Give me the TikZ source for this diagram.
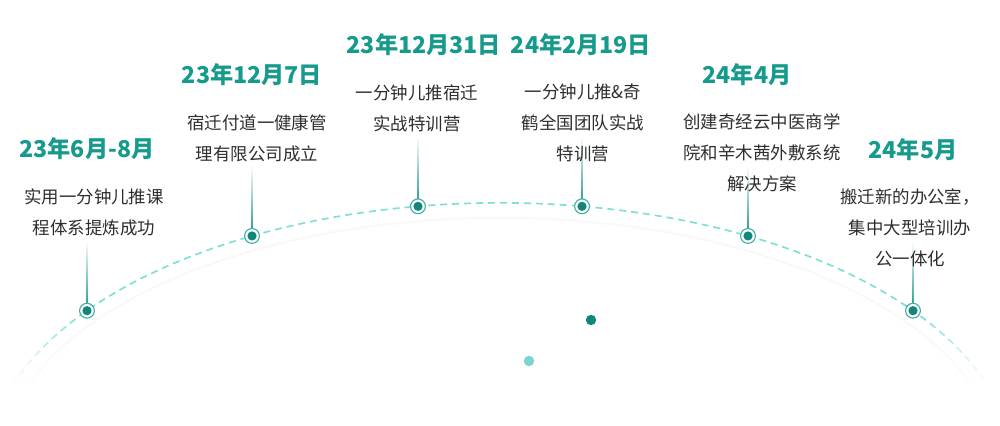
\documentclass[tikz,border=0pt]{standalone}
\usepackage{fontspec}
\setmainfont{Noto Sans CJK SC}
\usepackage{xcolor}
\usepackage{tikz}
\usetikzlibrary{calc}
\usetikzlibrary{positioning}
\usetikzlibrary{fadings}

\definecolor{datec}{RGB}{22,154,140}
\definecolor{dotc}{RGB}{18,134,120}
\definecolor{ringc}{RGB}{64,176,162}
\definecolor{arcc}{RGB}{128,224,214}
\definecolor{stemc}{RGB}{28,150,136}
\definecolor{txtc}{RGB}{45,45,45}
\definecolor{lightc}{RGB}{122,214,204}

\begin{document}
\begin{tikzpicture}[x=0.025cm,y=0.025cm,node distance=1.58cm]
 				 \tikzstyle{dot}=[draw=ringc, circle, line width=0.8pt, fill=white, minimum size=0.37cm, inner sep=0pt,
 				   path picture={\fill[dotc] (path picture bounding box.center) circle (0.115cm);}]
 				 \tikzstyle{date}=[text=datec, font=\fontsize{16.5pt}{20pt}\selectfont\bfseries, inner sep=0pt]
 				 \tikzstyle{desc}=[text=txtc, font=\fontsize{12.4pt}{22pt}\selectfont, align=center, inner sep=0pt]
 				 \tikzstyle{spot}=[circle, inner sep=0pt, minimum size=0.26cm]
 				 \useasboundingbox (0,0) rectangle (1000,426);
 					 \coordinate (O) at (500,-42);
 					 % arc
 					 \draw[black!2.5, line width=1.5pt] ($(O)+(160:12.5cm and 6.25cm)$)
 					 		arc[start angle=160, end angle=20, x radius=12.5cm, y radius=6.25cm];
 					 \draw[arcc, line width=1.2pt, dash pattern=on 5pt off 3.5pt] ($(O)+(161.6:12.825cm and 6.625cm)$)
 					 		arc[start angle=161.6, end angle=18.4, x radius=12.825cm, y radius=6.625cm];
 					 \fill[white, path fading=east] (0,0) rectangle (78,112);
 					 \fill[white, path fading=east] (0,0) rectangle (50,112);
 					 \fill[white, path fading=west] (922,0) rectangle (1000,112);
 					 \fill[white, path fading=west] (950,0) rectangle (1000,112);
 					 % dots
 					 \coordinate (d1) at ($(O)+(143.6:12.825cm and 6.625cm)$);
 					 \coordinate (d2) at ($(O)+(118.9:12.825cm and 6.625cm)$);
 					 \coordinate (d3) at ($(O)+(99.2:12.825cm and 6.625cm)$);
 					 \coordinate (d4) at ($(O)+(80.8:12.825cm and 6.625cm)$);
 					 \coordinate (d5) at ($(O)+(61.1:12.825cm and 6.625cm)$);
 					 \coordinate (d6) at ($(O)+(36.4:12.825cm and 6.625cm)$);
 					 \foreach \i in {1,...,6} {
 					 		\coordinate (s\i) at ($(d\i)+(0,70)$);
 					 		\shade[top color=white, bottom color=stemc] ($(d\i)+(-0.8,0)$) rectangle ($(s\i)+(0.8,0)$);
 					 		\node[dot] (m\i) at (d\i) {};
 					 }
 					 \node[spot, fill=dotc] (p1) at (591,106) {};
 					 \node[spot, fill=lightc] (p2) at (529,65) {};
 					 % dates and texts
 					 \node[date] (y1) at (87,277) {23年6月-8月};
 					 \node[desc] (t1) [below of=y1, xshift=0.175cm] {实用一分钟儿推课\\程体系提炼成功};
 					 \node[date] (y2) at (252,351) {23年12月7日};
 					 \node[desc] (t2) [below of=y2, xshift=0.125cm] {宿迁付道一健康管\\理有限公司成立};
 					 \node[date] (y3) at (424,381) {23年12月31日};
 					 \node[desc] (t3) [below of=y3, xshift=-0.175cm] {一分钟儿推宿迁\\实战特训营};
 					 \node[date] (y4) at (581,381) {24年2月19日};
 					 \node[desc] (t4) [below of=y4, node distance=1.95cm, xshift=0.05cm] {一分钟儿推\&奇\\鹤全国团队实战\\特训营};
 					 \node[date] (y5) at (747,351) {24年4月};
 					 \node[desc] (t5) [below of=y5, node distance=1.95cm, xshift=0.375cm] {创建奇经云中医商学\\院和辛木茜外敷系统\\解决方案};
 					 \node[date] (y6) at (913,276) {24年5月};
 					 \node[desc] (t6) [below of=y6, node distance=1.95cm, xshift=-0.075cm] {搬迁新的办公室，\\集中大型培训办\\公一体化};
				\end{tikzpicture}
\end{document}
